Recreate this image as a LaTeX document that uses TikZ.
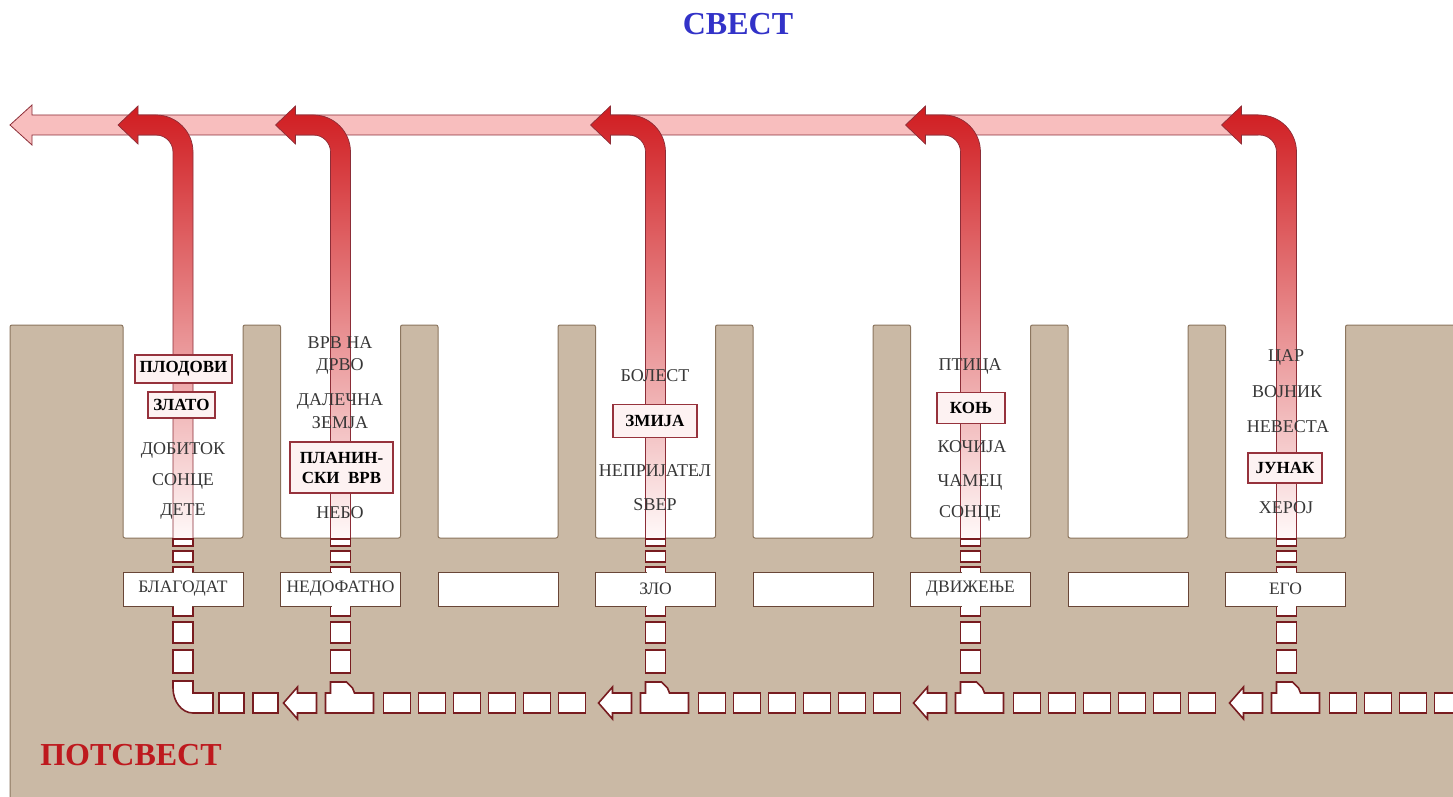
\documentclass[tikz,border=0pt]{standalone}
\usepackage{fontspec}
\setmainfont{Liberation Serif}
\definecolor{tan}{RGB}{202,185,165}
\definecolor{tanline}{RGB}{140,118,95}
\definecolor{maroon}{RGB}{120,28,32}
\definecolor{bandfill}{RGB}{248,190,190}
\definecolor{bandline}{RGB}{140,45,55}
\definecolor{redtop}{RGB}{208,28,32}
\definecolor{redmid}{RGB}{236,145,150}
\definecolor{redbot}{RGB}{255,250,250}
\definecolor{boxline}{RGB}{150,50,60}
\definecolor{boxfill}{RGB}{253,242,242}
\definecolor{wordgray}{RGB}{55,55,55}
\definecolor{titleblue}{RGB}{50,50,200}
\definecolor{titlered}{RGB}{190,25,30}
\definecolor{lblline}{RGB}{105,70,55}
\newcommand{\RedPipe}[1]{%
  \shadedraw[pipeshade] ({#1-10},540) -- ({#1-10},152)
    arc[start angle=0,end angle=-90,radius=17] -- ({#1-45},135) -- ({#1-45},144)
    -- ({#1-65},125) -- ({#1-45},106) -- ({#1-45},115) -- ({#1-27},115)
    arc[start angle=-90,end angle=0,radius=37] -- ({#1+10},540) -- cycle;}
\begin{document}
\begin{tikzpicture}[x=1pt,y=-1pt,
  pipeshade/.style={top color=redtop, middle color=redmid, bottom color=redbot, draw=bandline, line width=0.7pt},
  band/.style={fill=bandfill, draw=bandline, line width=0.8pt},
  tanshape/.style={fill=tan, draw=tanline, line width=1pt, rounded corners=2pt},
  sq/.style={fill=white, draw=maroon, line width=1.6pt},
  word/.style={font=\fontsize{18}{20}\selectfont, text=wordgray, inner sep=0pt},
  keybox/.style={font=\bfseries\fontsize{17}{20}\selectfont, draw=boxline, fill=boxfill, line width=1.3pt, inner sep=1pt, align=center, text=black},
  lbl/.style={font=\fontsize{17.5}{19}\selectfont, text=wordgray, fill=white, draw=lblline, line width=1pt, minimum width=120pt, minimum height=34pt, inner sep=0pt},
  title/.style={font=\bfseries\fontsize{32}{36}\selectfont, inner sep=0pt}]
\useasboundingbox (0,0) rectangle (1453,797);
\fill[white] (0,0) rectangle (1453,797);
% title
\node[title, text=titleblue] (svest) at (738,24) {СВЕСТ};
% light band
\draw[band] (10,125) -- (32,105) -- (32,115) -- (1258,115) -- (1258,135) -- (32,135) -- (32,145) -- cycle;
% tan comb
\filldraw[tanshape] (10,815) -- (10,325)
  \foreach \k in {0,...,7}{ -- ({123+157.5*\k},325) -- ({123+157.5*\k},538) -- ({243+157.5*\k},538) -- ({243+157.5*\k},325)}
  -- (1465,325) -- (1465,815) -- cycle;
% red pipes
\foreach \c in {183,340.5,655.5,970.5,1286.5}{\RedPipe{\c}}
% column 1
\node[keybox, minimum width=97pt, minimum height=28pt] (plodovi) at (183.5,369) {ПЛОДОВИ};
\node[keybox, minimum width=67pt, minimum height=26pt] (zlato) at (181.5,405) {ЗЛАТО};
\node[word] (dobitok) at (183,450) {ДОБИТОК};
\node[word] (sonce1) at (183,481) {СОНЦЕ};
\node[word] (dete) at (183,512) {ДЕТЕ};
% column 2
\node[word] (vrvna) at (340,343) {ВРВ НА};
\node[word] (drvo) at (340,366) {ДРВО};
\node[word] (dalecna) at (340,401) {ДАЛЕЧНА};
\node[word] (zemja) at (340,423) {ЗЕМЈА};
\node[keybox, minimum width=103pt, minimum height=51pt] (planinski) at (341.5,467.5) {ПЛАНИН-\\СКИ\enspace ВРВ};
\node[word] (nebo) at (340,513) {НЕБО};
% column 4
\node[word] (bolest) at (655,376) {БОЛЕСТ};
\node[keybox, minimum width=84pt, minimum height=33pt] (zmija) at (655,421) {ЗМИЈА};
\node[word] (neprijatel) at (655,471) {НЕПРИЈАТЕЛ};
\node[word] (dzver) at (655,505) {ЅВЕР};
% column 6
\node[word] (ptica) at (970,366) {ПТИЦА};
\node[keybox, minimum width=68pt, minimum height=31pt] (konj) at (971,408) {КОЊ};
\node[word] (kocija) at (972,447) {КОЧИЈА};
\node[word] (camec) at (970,482) {ЧАМЕЦ};
\node[word] (sonce2) at (970,513) {СОНЦЕ};
% column 8
\node[word] (car) at (1286,357) {ЦАР};
\node[word] (vojnik) at (1287,392) {ВОЈНИК};
\node[word] (nevesta) at (1288,427) {НЕВЕСТА};
\node[keybox, minimum width=74pt, minimum height=30pt] (junak) at (1285,468) {ЈУНАК};
\node[word] (heroj) at (1286,508) {ХЕРОЈ};
% lower vertical dashed pipes
\foreach \c in {183,340.5,655.5,970.5,1286.5}{
  \draw[sq] ({\c-10},539) rectangle ({\c+10},546);
  \draw[sq] ({\c-10},551) rectangle ({\c+10},562);
  \draw[sq] ({\c-10},567) rectangle ({\c+10},585);
  \draw[sq] ({\c-10},595) rectangle ({\c+10},616);
  \draw[sq] ({\c-10},622) rectangle ({\c+10},643);
  \draw[sq] ({\c-10},650) rectangle ({\c+10},673);
}
% label boxes
\node[lbl] (l1) at (183,589) {БЛАГОДАТ};
\node[lbl] (l2) at (340.5,589) {НЕДОФАТНО};
\node[lbl] (l3) at (498,589) {};
\node[lbl] (l4) at (655.5,589) {ЗЛО};
\node[lbl] (l5) at (813,589) {};
\node[lbl] (l6) at (970.5,589) {ДВИЖЕЊЕ};
\node[lbl] (l7) at (1128,589) {};
\node[lbl] (l8) at (1285.5,589) {ЕГО};
\foreach \c in {183,340.5,655.5,970.5,1286.5}{
  \fill[white] ({\c-9},570.8) rectangle ({\c+9},574);
  \fill[white] ({\c-9},604) rectangle ({\c+9},607.2);
}
% elbow column 1
\draw[sq] (173,681) -- (193,681) -- (193,693) -- (213,693) -- (213,713) -- (193,713)
  arc[start angle=90,end angle=180,x radius=20,y radius=25] -- cycle;
\draw[sq] (219,693) rectangle (244,713);
\draw[sq] (253,693) rectangle (278,713);
% T junctions and arrows
\foreach \c in {340.5,655.5,970.5,1286.5}{
  \draw[sq] ({\c-15},713) -- ({\c-15},693) -- ({\c-10},693) -- ({\c-10},682) -- ({\c+6},682)
    -- ({\c+12},688) -- ({\c+14},693) -- ({\c+33},693) -- ({\c+33},713) -- cycle;
  \draw[sq] ({\c-57},703) -- ({\c-43},687) -- ({\c-43},693) -- ({\c-24},693) -- ({\c-24},713)
    -- ({\c-43},713) -- ({\c-43},719) -- cycle;
}
\foreach \c in {340.5,655.5,970.5}{
  \foreach \j in {0,...,5}{\draw[sq] ({\c+43+35*\j},693) rectangle ++(27,20);}
}
\foreach \j in {0,...,3}{\draw[sq] ({1286.5+43+35*\j},693) rectangle ++(27,20);}
% subconscious label
\node[title, text=titlered] (potsvest) at (131,755) {ПОТСВЕСТ};
\end{tikzpicture}
\end{document}
